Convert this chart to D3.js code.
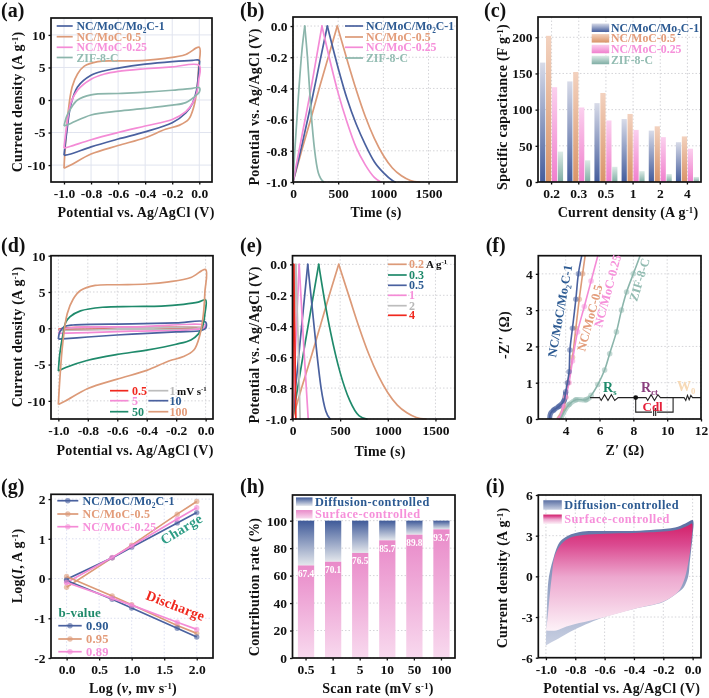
<!DOCTYPE html>
<html><head><meta charset="utf-8">
<script src="https://cdn.jsdelivr.net/npm/d3@7"></script>
<style>
html,body{margin:0;padding:0;background:#fff}
svg{display:block;filter:blur(.3px)}
text{font-family:"Liberation Serif",serif;font-weight:bold}
</style></head><body><svg id="c" width="709" height="698"></svg>
<script>
// ---------- data ----------
const seriesNames=["NC/MoC/Mo_{2}C-1","NC/MoC-0.5","NC/MoC-0.25","ZIF-8-C"];
const cvBlue=[[-1,-8.5],[-.98,-5],[-.95,-.8],[-.9,2],[-.8,3.8],[-.7,4.5],[-.6,4.9],[-.4,5.5],[-.2,5.9],[-.05,6.1],[0,6.1],[-.002,5],[-.02,1.5],[-.05,-.5],[-.1,-2],[-.2,-3.5],[-.4,-4.9],[-.6,-6],[-.8,-7.2],[-.95,-8.3],[-1,-8.5]];
const cvOrange=[[-1,-10.5],[-.99,-7],[-.97,-2],[-.94,2],[-.9,4],[-.85,5.2],[-.75,5.9],[-.6,6],[-.4,6.1],[-.25,6.4],[-.1,7],[0,8.1],[-.005,5],[-.015,2],[-.04,-1],[-.08,-3],[-.15,-3.9],[-.25,-4.5],[-.4,-5.8],[-.6,-7],[-.8,-8.3],[-.95,-10],[-1,-10.5]];
const cvPink=[[-1,-7.4],[-.98,-4],[-.95,-.5],[-.9,1.5],[-.8,3.2],[-.7,4],[-.6,4.4],[-.4,4.8],[-.2,5.1],[0,5.3],[-.005,3],[-.02,1],[-.05,-.5],[-.1,-1.8],[-.2,-3],[-.4,-4],[-.6,-5],[-.8,-6.1],[-.95,-7.1],[-1,-7.4]];
const cvZif=[[-1,-4],[-.98,-2.5],[-.95,-1.3],[-.9,0],[-.8,.8],[-.6,1],[-.4,1.2],[-.2,1.5],[-.05,1.8],[0,1.9],[0,1.2],[-.03,.6],[-.1,-.4],[-.2,-.8],[-.4,-1.3],[-.6,-1.7],[-.8,-2.3],[-.95,-3.6],[-1,-4]];
const gcdBlue=[[0,-1],[100,-.76],[200,-.5],[300,-.22],[380,0],[500,-.27],[600,-.47],[700,-.63],[800,-.76],[900,-.87],[1000,-.94],[1100,-.99],[1130,-1]];
const gcdOrange=[[0,-1],[100,-.79],[200,-.59],[300,-.38],[400,-.18],[490,0],[600,-.22],[700,-.41],[800,-.58],[900,-.72],[1000,-.83],[1100,-.91],[1200,-.96],[1300,-.99],[1400,-1]];
const gcdPink=[[0,-1],[100,-.7],[200,-.4],[320,0],[400,-.2],[500,-.43],[600,-.62],[700,-.78],[800,-.89],[900,-.97],[970,-1]];
const gcdZif=[[0,-1],[20,-.8],[60,-.45],[100,-.15],[130,0],[160,-.2],[200,-.55],[240,-.8],[280,-.94],[340,-1]];
const currentLabels=["0.2","0.3","0.5","1","2","4"];
const capBlue=[165,139,109,87,71,55];
const capOrange=[202,152,123,94,77,63];
const capPink=[131,103,85,72,62,46];
const capZif=[42,30,21,15,11,7];
const cv05=[[-1,-.18],[-.95,.05],[-.5,.07],[0,.12],[-.05,-.02],[-.5,-.1],[-1,-.18]];
const cv1=[[-1,-.3],[-.95,0],[-.5,.05],[0,.15],[-.05,-.06],[-.5,-.14],[-1,-.3]];
const cv5=[[-1,-.7],[-.98,-.2],[-.9,.1],[-.5,.2],[0,.4],[-.01,.1],[-.1,-.2],[-.5,-.4],[-.8,-.6],[-1,-.7]];
const cv10=[[-1,-1.5],[-.99,-.5],[-.96,.2],[-.9,.45],[-.5,.6],[-.2,.75],[0,.85],[0,0],[-.03,-.3],[-.2,-.5],[-.5,-.8],[-.8,-1.2],[-1,-1.5]];
const cv50=[[-1,-5.9],[-.99,-3.5],[-.97,-1],[-.95,.8],[-.92,1.6],[-.85,2.4],[-.7,2.9],[-.5,3],[-.3,3.05],[-.15,3.3],[-.05,3.6],[0,3.9],[-.005,2],[-.02,.3],[-.05,-.8],[-.1,-1.6],[-.2,-2.2],[-.4,-3],[-.6,-3.6],[-.8,-4.4],[-.95,-5.4],[-1,-5.9]];
const cv100=cvOrange;
const gcd02=[[0,-1],[100,-.79],[200,-.59],[300,-.38],[400,-.17],[485,0],[600,-.22],[700,-.41],[800,-.58],[900,-.72],[1000,-.83],[1100,-.91],[1200,-.96],[1300,-.99],[1400,-1]];
const gcd03=[[0,-1],[135,-.5],[275,0],[350,-.28],[400,-.44],[500,-.7],[600,-.88],[700,-.98],[780,-1]];
const gcd05=[[0,-1],[80,-.5],[160,0],[210,-.3],[260,-.6],[300,-.8],[350,-.95],[395,-1]];
const gcd1=[[0,-1],[70,0],[120,-.55],[165,-1]];
const gcd2=[[0,-1],[35,0],[60,-.5],[80,-1]];
const gcd4=[[0,-1],[13,0],[25,-.5],[35,-1]];
const eisBlue=[[3.05,0],[3.1,.15],[3.3,.25],[3.6,.35],[3.9,.5],[4,.75],[4.1,1],[4.2,1.3],[4.25,1.9],[4.4,2.5],[4.6,3.3],[4.75,4],[4.95,4.5]];
const eisOrange=[[3.55,0],[3.7,.1],[3.9,.3],[4,.6],[4.15,1],[4.4,1.7],[4.6,2.5],[4.8,3.3],[5,4],[5.15,4.5]];
const eisPink=[[3.5,0],[3.7,.1],[3.85,.35],[4,.6],[4.2,1],[4.4,1.6],[4.7,2.4],[5.1,3.1],[5.5,3.8],[5.9,4.5]];
const eisZif=[[3.7,0],[3.9,.2],[4.2,.4],[4.6,.53],[5.2,.53],[5.5,.65],[5.9,.95],[6.3,1.35],[6.6,1.8],[7,2.4],[7.3,3],[7.6,3.5],[8,4],[8.4,4.5]];
const arcBlue=[[3.05,0],[3.1,.15],[3.3,.25],[3.6,.35],[3.9,.5],[4,.75]];
const arcOrange=[[3.55,0],[3.7,.1],[3.9,.3]];
const arcZif=[[3.7,0],[3.9,.2],[4.2,.4],[4.6,.53],[5.2,.53],[5.45,.6]];
const wireMain=[[5.44,.59],[6,.59],[6.1,.51],[6.3,.67],[6.5,.51],[6.7,.67],[6.9,.51],[7.1,.59],[8.14,.59],[8.75,.59],[8.85,.51],[9.05,.67],[9.25,.51],[9.45,.67],[9.6,.59],[11,.59],[11.1,.51],[11.2,.65],[11.3,.53],[11.4,.65],[11.5,.59],[12,.59]];
const wireLoop=[[8.14,.59],[8.14,.19],[9.1,.19]];
const wireLoop2=[[9.4,.19],[10.35,.19],[10.35,.59]];
const capPlate1=[[9.2,.08],[9.2,.3]];
const capPlate2=[[9.32,.08],[9.32,.3]];
const logV=[0,.7,1,1.7,2];
const chgBlue=[-.02,.52,.79,1.4,1.66];
const chgOrange=[-.22,.52,.84,1.62,1.94];
const chgPink=[-.1,.53,.82,1.5,1.78];
const disBlue=[-.05,-.52,-.74,-1.25,-1.47];
const disOrange=[.05,-.44,-.66,-1.18,-1.38];
const disPink=[-.1,-.5,-.67,-1.1,-1.28];
const bValues=["0.90","0.95","0.89"];
const scanLabels=["0.5","1","5","10","50","100"];
const surface=[67.4,70.1,76.5,85.7,89.8,93.7];
const outerCv=[[-1,-5.1],[-.995,-3],[-.985,-.5],[-.97,.5],[-.95,1.3],[-.93,2],[-.9,2.6],[-.85,3],[-.75,3.3],[-.6,3.35],[-.4,3.35],[-.25,3.45],[-.12,3.6],[-.05,3.9],[0,4.15],[0,3],[-.01,2],[-.02,1],[-.03,0],[-.06,-.8],[-.1,-1.2],[-.2,-1.9],[-.4,-2.4],[-.6,-3],[-.8,-3.9],[-.9,-4.5],[-1,-5.1]];
const innerCv=[[-1,-4],[-.99,-3.2],[-.975,-1.5],[-.96,0],[-.94,1.5],[-.893,2.4],[-.836,2.85],[-.745,3.05],[-.6,3.15],[-.4,3.2],[-.2,3.3],[-.1,3.45],[-.03,3.75],[-.005,3.9],[-.01,2.5],[-.03,1],[-.05,0],[-.07,-.6],[-.1,-1.15],[-.2,-1.85],[-.4,-2.4],[-.6,-3],[-.86,-3.7],[-.93,-4],[-1,-4]];

// ---------- style ----------
const C={blue:"#4a619f",orange:"#dc9a78",pink:"#f48bd6",zif:"#8bb5ab",green:"#1f8a6b",red:"#f0281e",grey:"#bdbdbd"};
const T={blue:"#2c5a92",orange:"#e39c7a",pink:"#f690da",zif:"#93bcb2",green:"#1f8a6b",red:"#f0281e"};
const svg=d3.select("#c");
const defs=svg.append("defs");
function grad(id,stops){
  const g=defs.append("linearGradient").attr("id",id).attr("x1",0).attr("x2",0).attr("y1",0).attr("y2",1);
  stops.forEach(([o,c])=>g.append("stop").attr("offset",o).attr("stop-color",c));
}
grad("gBlue",[[0,"#d8dbe8"],[1,"#435c9c"]]);
grad("gOrange",[[0,"#f3d2bf"],[1,"#d99468"]]);
grad("gPink",[[0,"#fbd0ee"],[1,"#f07fcd"]]);
grad("gZif",[[0,"#dcebe6"],[1,"#7fada4"]]);
grad("gDiff",[[0,"#3f5a99"],[1,"#e4e7ec"]]);
grad("gSurf",[[0,"#e98ac9"],[1,"#f8d9ee"]]);
grad("gOuter",[[0,"#5a6fa3"],[1,"#c9d0e2"]]);
grad("gInner",[[0,"#d21f68"],[.2,"#db4a90"],[.5,"#eda8cf"],[1,"#fdf2f8"]]);

function rich(sel,str){
  const parts=str.split(/(\^\{[^}]*\}|_\{[^}]*\}|\*[^*]*\*)/).filter(s=>s!=="");
  let shift=0;
  parts.forEach(p=>{
    const t=sel.append("tspan");
    let dy=-shift; shift=0;
    if(p[0]==="^"){t.text(p.slice(2,-1)).attr("font-size","0.62em");dy-=4;shift=-4;}
    else if(p[0]==="_"){t.text(p.slice(2,-1)).attr("font-size","0.62em");dy+=3;shift=3;}
    else if(p[0]==="*"){t.text(p.slice(1,-1)).attr("font-style","italic");}
    else t.text(p);
    if(dy) t.attr("dy",dy);
  });
  return sel;
}
function label(x,y,str,o={}){
  const t=svg.append("text").attr("x",x).attr("y",y).attr("font-size",o.size||12.5)
    .attr("fill",o.fill||"#111").attr("text-anchor",o.anchor||"start");
  if(o.ls) t.attr("letter-spacing",o.ls);
  if(o.rot!==undefined) t.attr("transform",`rotate(${o.rot} ${x} ${y})`);
  rich(t,str);return t;
}
function panel(o){
  const [L,R,Tp,B]=o.box;
  const x=o.x||d3.scaleLinear().domain(o.xd).range([L,R]);
  const y=d3.scaleLinear().domain(o.yd).range([B,Tp]);
  const g=svg.append("g");
  const gs=o.gridStyle||{c:"#d4d4d8",d:"1.5,2"};
  const grid=g.append("g").attr("fill","none").attr("stroke",gs.c).attr("stroke-width",1).attr("stroke-dasharray",gs.d);
  if(o.xt) grid.selectAll(".vx").data(o.xt).join("line").attr("x1",d=>x(d)).attr("x2",d=>x(d)).attr("y1",Tp).attr("y2",B);
  grid.selectAll(".hy").data(o.yt).join("line").attr("x1",L).attr("x2",R).attr("y1",d=>y(d)).attr("y2",d=>y(d));
  const fs=o.tickSize||13.5;
  const ax=d3.axisBottom(x).tickSizeInner(2.5).tickSizeOuter(0).tickPadding(o.xpad||4);
  if(o.xt) ax.tickValues(o.xt).tickFormat(o.xf||(d=>d));
  const ay=d3.axisLeft(y).tickValues(o.yt).tickFormat(o.yf||(d=>d)).tickSizeInner(2.5).tickSizeOuter(0).tickPadding(3);
  const after=()=>{
    const gx=g.append("g").attr("transform",`translate(0,${B})`).call(ax);
    const gy=g.append("g").attr("transform",`translate(${L},0)`).call(ay);
    [gx,gy].forEach(a=>{a.select(".domain").remove();
      a.selectAll("line").attr("stroke","#111").attr("stroke-width",1.3);
      a.selectAll("text").attr("font-size",fs).attr("fill","#111").attr("font-family","Liberation Serif").attr("font-weight","bold");});
    g.append("rect").attr("x",L).attr("y",Tp).attr("width",R-L).attr("height",B-Tp).attr("fill","none").attr("stroke","#111").attr("stroke-width",1.7);
  };
  const marks=g.append("g");
  label(o.letter[1],o.letter[2],o.letter[0],{size:20,fill:"#111"});
  label(o.xTitle[1],o.xTitle[2],o.xTitle[0],{size:o.xTitle[3]||14,anchor:"middle",ls:.25});
  label(o.yTitle[1],o.yTitle[2],o.yTitle[0],{size:o.yTitle[3]||14,anchor:"middle",rot:-90,ls:.25});
  return {x,y,marks,finish:after};
}
const lineGen=(p)=>d3.line().x(d=>p.x(d[0])).y(d=>p.y(d[1])).curve(d3.curveCatmullRom.alpha(.5));
function draw(p,data,color,w=1.7){
  p.marks.append("path").datum(data).attr("d",lineGen(p)).attr("fill","none").attr("stroke",color).attr("stroke-width",w).attr("stroke-linejoin","round");
}
// a charge/discharge curve: each branch smoothed on its own so the peak stays sharp
function drawGcd(p,data,color){
  const k=data.findIndex(d=>d[1]===0);
  const gen=d3.line().x(d=>p.x(d[0])).y(d=>p.y(d[1])).curve(d3.curveMonotoneX);
  [data.slice(0,k+1),data.slice(k)].forEach(b=>p.marks.append("path").datum(b).attr("d",gen).attr("fill","none").attr("stroke",color).attr("stroke-width",1.7).attr("stroke-linecap","round"));
}
const f1=d=>d.toFixed(1);
const softGrid={c:"#e1e4ef",d:"none"};

// (a)
let p=panel({box:[51,212,18,182],xd:[-1.096,.094],yd:[-12.6,12.6],xt:[-1,-.8,-.6,-.4,-.2,0],xf:f1,yt:[-10,-5,0,5,10],gridStyle:softGrid,
  letter:["(a)",1,17],xTitle:["Potential vs. Ag/AgCl (V)",136,217],yTitle:["Current density (A g^{-1})",22,102]});
[[cvOrange,C.orange],[cvBlue,C.blue],[cvPink,C.pink],[cvZif,C.zif]].forEach(d=>draw(p,d[0],d[1]));
p.finish();
function lineLegend(x1,x2,tx,rows,names,cols,tcols,size,w){
  rows.forEach((ry,i)=>{
    svg.append("line").attr("x1",x1).attr("x2",x2).attr("y1",ry).attr("y2",ry).attr("stroke",cols[i]).attr("stroke-width",w||1.7);
    label(tx,ry+4,names[i],{size:size||12,fill:tcols[i]});
  });
}
const sc=[C.blue,C.orange,C.pink,C.zif], st=[T.blue,T.orange,T.pink,T.zif];
lineLegend(56.7,72.7,76.5,[26,36.7,47.3,57.5],seriesNames,sc,st,11.8);

// (b)
p=panel({box:[293,457,17,182],xd:[0,1815],yd:[-1,.058],xt:[0,500,1000,1500],yt:[-1,-.8,-.6,-.4,-.2,0],yf:f1,
  letter:["(b)",240,17],xTitle:["Time (s)",376,217],yTitle:["Potential vs. Ag/AgCl (V)",259,107]});
[[gcdOrange,C.orange],[gcdBlue,C.blue],[gcdPink,C.pink],[gcdZif,C.zif]].forEach(d=>drawGcd(p,d[0],d[1]));
p.finish();
lineLegend(345,363,366,[26,37,47.3,58],seriesNames,sc,st,11.8);

// (c)
const xc=d3.scaleBand().domain(currentLabels).range([538,701]);
p=panel({box:[538,701,17,182],x:xc,yd:[0,228],yt:[0,50,100,150,200],
  letter:["(c)",484,17],xTitle:["Current density (A g^{-1})",628,217],yTitle:["Specific capacitance (F g^{-1})",507,107]});
const sub=d3.scaleBand().domain([0,1,2,3]).range([-11.5,11.5]).paddingInner(.12);
p.marks.append("g").selectAll("line").data(currentLabels).join("line").attr("x1",d=>xc(d)+xc.bandwidth()/2).attr("x2",d=>xc(d)+xc.bandwidth()/2).attr("y1",17).attr("y2",182).attr("stroke","#d4d4d8").attr("stroke-dasharray","1.5,2");
[[capBlue,"gBlue"],[capOrange,"gOrange"],[capPink,"gPink"],[capZif,"gZif"]].forEach((s,i)=>{
  p.marks.append("g").selectAll("rect").data(s[0]).join("rect")
    .attr("x",(d,j)=>xc(currentLabels[j])+xc.bandwidth()/2+sub(i)).attr("width",sub.bandwidth())
    .attr("y",d=>p.y(d)).attr("height",d=>182-p.y(d)).attr("fill",`url(#${s[1]})`);
});
p.finish();
function swatches(x,w,h,tx,rows,names,fills,tcols,size,ls){
  rows.forEach((ry,i)=>{
    svg.append("rect").attr("x",x).attr("width",w).attr("y",ry-h/2).attr("height",h).attr("fill",`url(#${fills[i]})`);
    label(tx,ry+4,names[i],{size,fill:tcols[i],ls});
  });
}
swatches(591.7,17.5,8.5,611,[27.7,38.3,49,60],seriesNames,["gBlue","gOrange","gPink","gZif"],st,11.8);

// (d)
p=panel({box:[51,213,255.7,419],xd:[-1.05,.05],yd:[-12.5,10],xt:[-1,-.8,-.6,-.4,-.2,0],xf:f1,yt:[-10,-5,0,5,10],
  letter:["(d)",1,252],xTitle:["Potential vs. Ag/AgCl (V)",135,455],yTitle:["Current density (A g^{-1})",22,337]});
[[cv05,C.red],[cv1,C.grey],[cv5,C.pink],[cv10,C.blue],[cv50,C.green],[cv100,C.orange]].forEach(d=>draw(p,d[0],d[1]));
p.finish();
lineLegend(110,128.3,132,[390.7,400.7,411.7],["0.5","5","50"],[C.red,C.pink,C.green],[T.red,T.pink,T.green],12);
lineLegend(148.3,168.3,169.5,[390.7,400.7,411.7],["1","10","100"],[C.grey,C.blue,C.orange],["#b8b8b8",T.blue,T.orange],12);
label(177,394.7,"mV s^{-1}",{size:11});

// (e)
p=panel({box:[292.5,455,255.7,419],xd:[0,1705],yd:[-1,.056],xt:[0,500,1000,1500],yt:[-1,-.8,-.6,-.4,-.2,0],yf:f1,
  letter:["(e)",240,252],xTitle:["Time (s)",380,456],yTitle:["Potential vs. Ag/AgCl (V)",259,345]});
[[gcd02,C.orange],[gcd03,C.green],[gcd05,C.blue],[gcd1,C.pink],[gcd2,C.grey],[gcd4,C.red]].forEach(d=>drawGcd(p,d[0],d[1]));
p.finish();
lineLegend(388,406.7,409,[264.3,275,285.3,295.3,305.7,315.3],["0.2","0.3","0.5","1","2","4"],[C.orange,C.green,C.blue,C.pink,C.grey,C.red],[T.orange,T.green,T.blue,T.pink,"#b8b8b8",T.red],12);
label(426,268.3,"A g^{-1}",{size:11});

// (f)
p=panel({box:[538.3,701,255.7,419],xd:[2.38,12],yd:[0,4.5],xt:[4,6,8,10,12],yt:[0,1,2,3,4],
  letter:["(f)",485.7,252],xTitle:["Z′ (Ω)",625,455],yTitle:["-Z′′ (Ω)",509,335]});
[[arcBlue,C.blue,5],[arcOrange,C.orange,4],[arcZif,"#a9c9c2",5]].forEach(d=>{
  p.marks.append("path").datum(d[0]).attr("d",lineGen(p)).attr("fill","none").attr("stroke",d[1]).attr("stroke-width",d[2]).attr("opacity",.8);
});
[[eisOrange,C.orange],[eisPink,C.pink],[eisBlue,C.blue],[eisZif,C.zif]].forEach(d=>{
  draw(p,d[0],d[1],1.6);
  p.marks.append("g").selectAll("circle").data(d[0].slice(2,-1)).join("circle")
    .attr("cx",v=>p.x(v[0])).attr("cy",v=>p.y(v[1])).attr("r",2.8).attr("fill",d[1]).attr("opacity",.5);
});
const wire=d3.line().x(d=>p.x(d[0])).y(d=>p.y(d[1]));
[wireMain,wireLoop,wireLoop2,capPlate1,capPlate2].forEach(w=>p.marks.append("path").datum(w).attr("d",wire).attr("fill","none").attr("stroke","#222").attr("stroke-width",1.1));
p.marks.append("circle").datum(wireMain[8]).attr("cx",d=>p.x(d[0])).attr("cy",d=>p.y(d[1])).attr("r",2.4).attr("fill","#111");
p.finish();
label(556,357.7,"NC/MoC/Mo_{2}C-1",{size:12.5,fill:T.blue,rot:-80});
label(585,352,"NC/MoC-0.5",{size:12.5,fill:T.orange,rot:-75});
label(602,328,"NC/MoC-0.25",{size:12.5,fill:T.pink,rot:-75});
label(637,302,"ZIF-8-C",{size:12.5,fill:T.zif,rot:-73});
label(603,392,"R_{s}",{size:14,fill:T.green});
label(641,392,"R_{ct}",{size:14,fill:"#8a3f7e"});
label(642.5,410.5,"Cdl",{size:13,fill:"#e6203a"});
label(677,391,"W_{0}",{size:14,fill:"#f7d9b5"});

// (g)
p=panel({box:[51,213,494.3,658],xd:[-.24,2.25],yd:[-2,2.12],xt:[0,.5,1,1.5,2],xf:f1,yt:[-2,-1,0,1,2],gridStyle:{c:"#dcdff0",d:"1.5,2"},
  letter:["(g)",1,493],xTitle:["Log (*v*, mv s^{-1})",133,692.5],yTitle:["Log(*I*, A g^{-1})",21.7,566]});
[[chgOrange,C.orange],[chgBlue,C.blue],[chgPink,C.pink],[disOrange,C.orange],[disBlue,C.blue],[disPink,C.pink]].forEach(s=>{
  const pts=logV.map((v,i)=>[v,s[0][i]]);
  p.marks.append("path").datum(pts).attr("d",d3.line().x(v=>p.x(v[0])).y(v=>p.y(v[1]))).attr("fill","none").attr("stroke",s[1]).attr("stroke-width",1.7);
  p.marks.append("g").selectAll("circle").data(pts).join("circle").attr("cx",v=>p.x(v[0])).attr("cy",v=>p.y(v[1])).attr("r",2.7).attr("fill",s[1]).attr("opacity",.6);
});
p.finish();
function markerLegend(x1,x2,tx,rows,names,cols,tc,size){
  rows.forEach((ry,i)=>{
    svg.append("line").attr("x1",x1).attr("x2",x2).attr("y1",ry).attr("y2",ry).attr("stroke",cols[i]).attr("stroke-width",1.7);
    svg.append("circle").attr("cx",(x1+x2)/2).attr("cy",ry).attr("r",2.7).attr("fill",cols[i]).attr("opacity",.6);
    label(tx,ry+4,names[i],{size,fill:tc[i],ls:.2});
  });
}
markerLegend(57.3,78.3,82.5,[500.7,514,526.7],seriesNames.slice(0,3),sc,st,12);
markerLegend(58.3,81.7,86,[625.7,639,651.7],bValues,sc,st,12.5);
label(58.5,617,"b-value",{size:13,fill:T.green,ls:.2});
label(164,545,"Charge",{size:14,fill:"#2e9d86",rot:-31,ls:.3});
label(145,599,"Discharge",{size:14,fill:T.red,rot:21,ls:.2});

// (h)
const xh=d3.scaleBand().domain(scanLabels).range([292.5,455]).paddingInner(.4).paddingOuter(.2);
p=panel({box:[292.5,455,495,658],x:xh,yd:[0,118.7],yt:[0,20,40,60,80,100],
  letter:["(h)",240,493],xTitle:["Scan rate (mV s^{-1})",378,692.5],yTitle:["Contribution rate (%)",259,587]});
p.marks.append("g").selectAll("rect").data(surface).join("rect")
  .attr("x",(d,i)=>xh(scanLabels[i])).attr("width",xh.bandwidth()).attr("y",p.y(100)).attr("height",d=>p.y(d)-p.y(100)).attr("fill","url(#gDiff)");
p.marks.append("g").selectAll("rect").data(surface).join("rect")
  .attr("x",(d,i)=>xh(scanLabels[i])).attr("width",xh.bandwidth()).attr("y",d=>p.y(d)).attr("height",d=>p.y(0)-p.y(d)).attr("fill","url(#gSurf)");
p.marks.append("g").selectAll("text").data(surface).join("text")
  .attr("x",(d,i)=>xh(scanLabels[i])+xh.bandwidth()/2).attr("y",d=>p.y(d)+11.5).attr("text-anchor","middle").attr("font-size",9.3).attr("fill","#fff").text(d=>d);
p.finish();
swatches(296,16.5,8.5,315,[501.7,514.3],["Diffusion-controlled","Surface-controlled"],["gDiff","gSurf"],[T.blue,T.pink],12.3,.45);

// (i)
p=panel({box:[538.3,701,495,657.7],xd:[-1.052,.057],yd:[-6,6],xt:[-1,-.8,-.6,-.4,-.2,0],xf:f1,yt:[-6,-3,0,3,6],
  letter:["(i)",485.7,493],xTitle:["Potential vs. Ag/AgCl (V)",621.7,692.5],yTitle:["Current density (A g^{-1})",507.3,578]});
p.marks.append("path").datum(outerCv).attr("d",lineGen(p)).attr("fill","url(#gOuter)");
p.marks.append("path").datum(innerCv).attr("d",lineGen(p)).attr("fill","url(#gInner)");
p.finish();
swatches(543.3,18.5,9.5,564.3,[505,519.3],["Diffusion-controlled","Surface-controlled"],["gOuter","gInner"],[T.blue,T.pink],12.3,.45);
</script></body></html>
